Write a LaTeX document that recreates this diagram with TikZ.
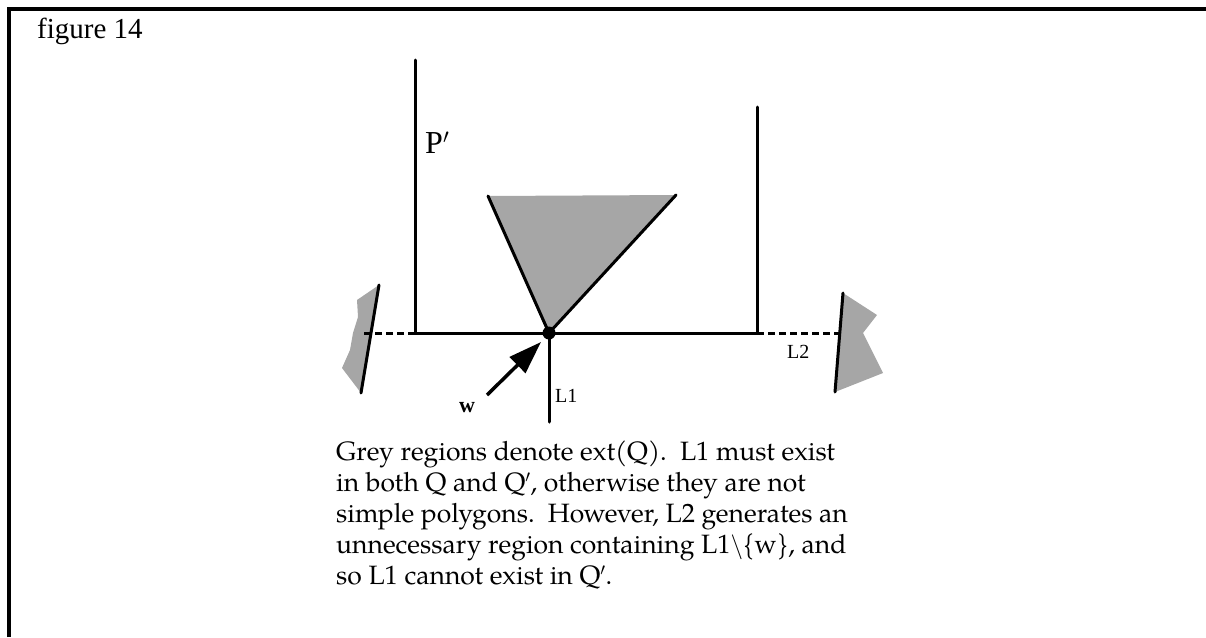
\documentclass[tikz,border=0pt]{standalone}
\usepackage{fontspec}
\setmainfont{TeX Gyre Pagella}
\newfontfamily\labelfont{Liberation Serif}
\usetikzlibrary{arrows.meta}

\begin{document}
\begin{tikzpicture}[
  x=1pt, y=-1pt,
  edge/.style={line width=3pt, line cap=round},
  ext/.style={fill=black!35, draw=none},
  gap/.style={line width=3pt, dash pattern=on 7pt off 4pt},
  lbl/.style={font=\labelfont\fontsize{20}{24}\selectfont, inner sep=0pt, anchor=base west},
  pointer/.style={-{Triangle[length=33pt, width=22pt]}, line width=3.5pt},
]
\useasboundingbox (0,0) rectangle (1206,637);

% === Frame and title ===
\draw[line width=3.5pt] (9,637) -- (9,9) -- (1206,9);
\node[lbl, font=\labelfont\fontsize{29}{33}\selectfont] (title) at (37,38) {figure 14};

% === P' ===
\coordinate (pTL) at (415,60);
\coordinate (pBL) at (415,333);
\coordinate (pBR) at (757,333);
\coordinate (pTR) at (757,107);
\coordinate (w)   at (549,333);
\coordinate (triL) at (488,196);
\coordinate (triR) at (676,195);
\coordinate (l1end) at (549,422);

\fill[ext] (triL) -- (triR) -- (w) -- cycle;
\draw[edge] (pTL) -- (pBL) -- (pBR) -- (pTR);
\draw[edge] (triL) -- (w) -- (triR);
\draw[edge] (w) -- (l1end);
\fill (w) circle (6.5pt);
\node[lbl, font=\labelfont\fontsize{32}{36}\selectfont] (pname) at (425,153) {P$'$};

% === Grey regions of ext(Q) ===
\coordinate (lA) at (379,285);
\coordinate (lB) at (361,393);
\coordinate (lEnd) at (362,333);
\fill[ext] (379,285) -- (357,300) -- (358,317) -- (353,333) -- (350,350)
  -- (342,368) -- (361,393) -- cycle;
\draw[edge] (lA) -- (lB);
\draw[gap] (pBL) -- (lEnd);

\coordinate (rA) at (843,293);
\coordinate (rB) at (835,392);
\coordinate (rEnd) at (842,333);
\fill[ext] (843,293) -- (877,315) -- (863,333) -- (883,373) -- (835,392) -- cycle;
\draw[edge] (rA) -- (rB);
\draw[gap] (pBR) -- (rEnd);

% === Labels ===
\node[lbl] (l1) at (555,402) {L1};
\node[lbl] (l2) at (787,358) {L2};
\node[lbl, font=\labelfont\bfseries\fontsize{22}{26}\selectfont] (wname) at (459,412) {w};
\coordinate (wtail) at (487,395);
\coordinate (wtip) at (541,342);
\draw[pointer] (wtail) -- (wtip);

% === Caption ===
\node[anchor=north west, inner sep=0pt, align=left,
      font=\fontsize{26.5}{31}\selectfont] (caption) at (336,441)
  {Grey regions denote ext(Q).\ \ L1 must exist\\
   in both Q and Q$'$, otherwise they are not\\
   simple polygons.\ \ However, L2 generates an\\
   unnecessary region containing L1$\setminus$\{w\}, and\\
   so L1 cannot exist in Q$'$.};

\end{tikzpicture}
\end{document}
